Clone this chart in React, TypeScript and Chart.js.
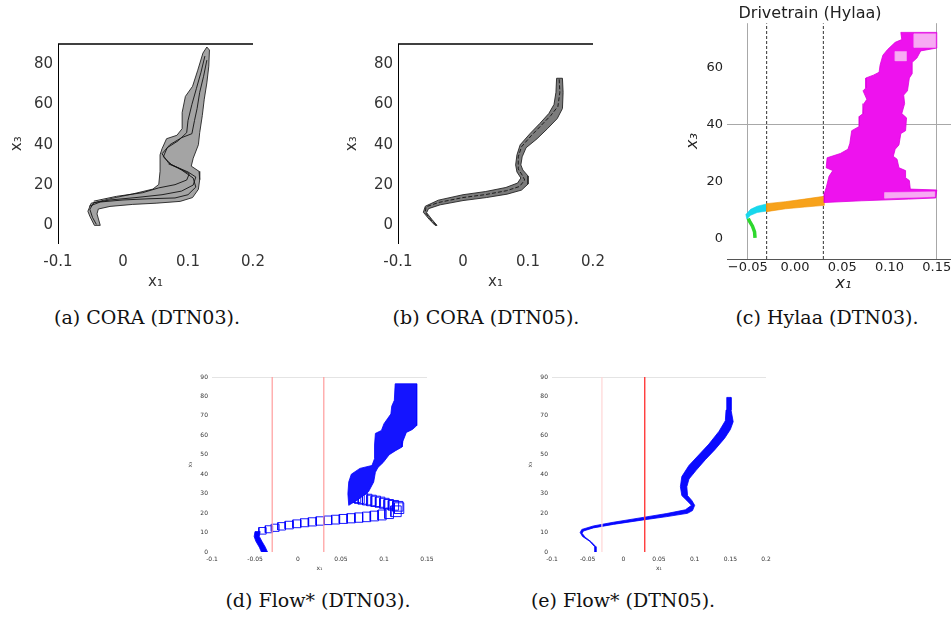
import React, { useEffect, useRef } from 'react';
import { Chart, registerables } from 'chart.js';

Chart.register(...registerables);
Chart.defaults.font.family = '"DejaVu Sans", sans-serif';

type Pt = [number, number];

// ---------------- (a) / (b) CORA ----------------
const CORA_X_TICKS = [-0.1, 0, 0.1, 0.2];
const CORA_X_LABELS = ['-0.1', '0', '0.1', '0.2'];
const CORA_Y_TICKS = [0, 20, 40, 60, 80];
const CORA_Y_LABELS = ['0', '20', '40', '60', '80'];

const CORA03_LEFT: Pt[] = [
  [-0.044, 0], [-0.051, 4.5], [-0.054, 7], [-0.049, 11], [-0.02, 13.2], [0.015, 15.6], [0.046, 18],
  [0.055, 20.3], [0.057, 26.8], [0.057, 35], [0.06, 38], [0.067, 43], [0.083, 44.7], [0.091, 48],
  [0.091, 56], [0.096, 64], [0.107, 69], [0.115, 77], [0.123, 85.5], [0.129, 88.5],
];
const CORA03_RIGHT: Pt[] = [
  [0.133, 87], [0.132, 79], [0.129, 70.7], [0.125, 62.6], [0.122, 54.5], [0.118, 46], [0.116, 40],
  [0.108, 33.3], [0.105, 29.4], [0.117, 26.8], [0.118, 22.7], [0.116, 17.9], [0.107, 13.8], [0.088, 11.9],
  [0.051, 11], [0.015, 10.4], [-0.02, 9.4], [-0.038, 8.1], [-0.04, 5.7], [-0.035, 0],
];
const CORA03_TRAJ_1: Pt[] = [
  [-0.041, 0.5], [-0.047, 4], [-0.051, 8], [-0.045, 11.2], [-0.02, 12.6], [0.02, 13.8], [0.06, 15.2],
  [0.09, 17], [0.108, 20], [0.112, 24], [0.1, 26.5], [0.075, 30], [0.062, 34], [0.068, 38.5], [0.085, 42],
  [0.098, 46], [0.1, 52], [0.106, 60], [0.113, 68], [0.12, 76], [0.126, 84],
];
const CORA03_TRAJ_2: Pt[] = [
  [-0.052, 9.5], [-0.035, 11.6], [0.0, 12.6], [0.04, 13.2], [0.08, 13.6], [0.1, 15.2], [0.112, 19],
  [0.108, 23.5], [0.09, 27.5], [0.07, 31], [0.06, 35.5], [0.072, 40], [0.09, 43.5], [0.106, 45.5],
  [0.11, 52], [0.114, 58], [0.118, 66], [0.124, 74], [0.129, 82],
];
const CORA03_TRAJ_3: Pt[] = [
  [-0.045, 12], [-0.01, 14.4], [0.03, 16.2], [0.055, 18.6], [0.08, 20.2], [0.098, 22.5], [0.102, 25.6],
  [0.085, 28.5], [0.07, 30.5],
];

const CORA05_LEFT: Pt[] = [
  [-0.043, 0], [-0.052, 3], [-0.061, 6.5], [-0.058, 9.5], [-0.038, 12.5], [0, 15.2], [0.035, 16.8],
  [0.066, 18.8], [0.084, 21], [0.089, 23.5], [0.083, 26.5], [0.081, 30], [0.083, 35], [0.088, 40],
  [0.103, 45.5], [0.118, 50.5], [0.132, 55.5], [0.14, 60], [0.143, 66], [0.144, 73],
];
const CORA05_RIGHT: Pt[] = [
  [0.153, 73], [0.154, 66], [0.153, 58], [0.145, 53], [0.13, 48], [0.114, 43], [0.097, 38.5],
  [0.091, 34], [0.089, 30], [0.092, 27.5], [0.1, 24.5], [0.1, 20.5], [0.09, 17.5], [0.068, 15.5],
  [0.036, 13.8], [0, 12.3], [-0.035, 10.2], [-0.053, 8.3], [-0.056, 6.3], [-0.048, 3], [-0.04, 0],
];
const CORA05_TRAJ: Pt[] = [
  [-0.0415, 0], [-0.05, 3], [-0.058, 6.4], [-0.057, 9.2], [-0.037, 11.4], [0, 13.8], [0.035, 15.3],
  [0.067, 17.2], [0.087, 19.3], [0.095, 22.5], [0.09, 25.5], [0.085, 28], [0.085, 34], [0.09, 39],
  [0.105, 44.5], [0.12, 49.5], [0.135, 54.5], [0.146, 59], [0.149, 66], [0.148, 72.5],
];

// ---------------- (c) Hylaa ----------------
const HYLAA_X_TICKS = [-0.05, 0, 0.05, 0.1, 0.15];
const HYLAA_X_LABELS = ['\u22120.05', '0.00', '0.05', '0.10', '0.15'];
const HYLAA_Y_TICKS = [0, 20, 40, 60];
const HYLAA_Y_LABELS = ['0', '20', '40', '60'];
const HYLAA_X_GRID = [-0.05, 0.15];
const HYLAA_Y_GRID = [40];
const HYLAA_GUARDS = [-0.03, 0.03];

const HYLAA_GREEN: Pt[] = [[-0.0423, 0.4], [-0.0428, 2.5], [-0.045, 4.5], [-0.048, 6.2], [-0.0495, 7.2]];
const HYLAA_CYAN_LOW: Pt[] = [[-0.051, 7], [-0.047, 8.3], [-0.04, 9.3], [-0.03, 9.8]];
const HYLAA_CYAN_UP: Pt[] = [[-0.03, 12.3], [-0.04, 11.5], [-0.047, 10.4], [-0.052, 8.6]];
const HYLAA_ORANGE_LOW: Pt[] = [[-0.03, 9.6], [-0.01, 10.6], [0.01, 11.2], [0.031, 11.8]];
const HYLAA_ORANGE_UP: Pt[] = [[0.031, 15], [0.01, 14], [-0.01, 13.1], [-0.03, 12.4]];
const HYLAA_MAG_RIGHT: Pt[] = [
  [0.031, 12.8], [0.07, 13.4], [0.12, 14.0], [0.149, 14.4], [0.15, 17.2], [0.122, 17.5], [0.121, 20.5],
  [0.117, 21.5], [0.117, 24.0], [0.11, 25.0], [0.108, 28.0], [0.104, 29.0], [0.106, 31.5], [0.11, 33.0],
  [0.112, 37.0], [0.117, 38.0], [0.118, 42.5], [0.113, 44.0], [0.116, 47.5], [0.115, 50.5], [0.119, 52.0],
  [0.121, 56.5], [0.124, 58.0], [0.124, 62.0], [0.129, 63.5], [0.133, 66.0], [0.15, 67.0], [0.15, 72.5],
];
const HYLAA_MAG_LEFT: Pt[] = [
  [0.112, 72.5], [0.113, 70.0], [0.106, 69.0], [0.098, 66.5], [0.093, 64.5], [0.09, 61.0], [0.089, 58.5],
  [0.083, 57.5], [0.075, 56.5], [0.075, 53.0], [0.072, 52.0], [0.076, 49.0], [0.073, 47.5], [0.072, 44.0],
  [0.068, 43.0], [0.068, 39.5], [0.06, 38.0], [0.058, 33.5], [0.056, 31.5], [0.048, 30.0], [0.034, 28.5],
  [0.033, 25.0], [0.04, 24.0], [0.036, 22.0], [0.033, 18.0], [0.031, 16.0],
];
const HYLAA_PINK_1: Pt[] = [[0.126, 67.2], [0.149, 67.2], [0.149, 72], [0.126, 72]];
const HYLAA_PINK_2: Pt[] = [[0.106, 62.5], [0.118, 62.5], [0.118, 65.8], [0.106, 65.8]];
const HYLAA_PINK_3: Pt[] = [[0.095, 14.3], [0.148, 14.8], [0.148, 16.6], [0.095, 16.3]];

// ---------------- (d) / (e) Flow* ----------------
const FLOW03_X_TICKS = [-0.1, -0.05, 0, 0.05, 0.1, 0.15];
const FLOW03_X_LABELS = ['-0.1', '-0.05', '0', '0.05', '0.1', '0.15'];
const FLOW05_X_TICKS = [-0.1, -0.05, 0, 0.05, 0.1, 0.15, 0.2];
const FLOW05_X_LABELS = ['-0.1', '-0.05', '0', '0.05', '0.1', '0.15', '0.2'];
const FLOW_Y_TICKS = [0, 10, 20, 30, 40, 50, 60, 70, 80, 90];
const FLOW_Y_LABELS = ['0', '10', '20', '30', '40', '50', '60', '70', '80', '90'];
const FLOW_GUARDS = [-0.03, 0.03];

const FLOW03_TAIL_L: Pt[] = [[-0.0425, 0], [-0.045, 2.5], [-0.049, 5.5], [-0.051, 8], [-0.05, 10.5]];
const FLOW03_TAIL_R: Pt[] = [[-0.044, 10.5], [-0.045, 8], [-0.042, 5.5], [-0.038, 2.5], [-0.0355, 0]];
const FLOW03_BOX_X = [
  -0.0455, -0.038, -0.031, -0.0235, -0.015, -0.006, 0.003, 0.012, 0.021, 0.03, 0.039, 0.048, 0.057, 0.066,
  0.075, 0.084, 0.093, 0.101, 0.108, 0.112, 0.11, 0.105, 0.1, 0.095, 0.09, 0.085, 0.08, 0.075, 0.07, 0.066, 0.062,
];
const FLOW03_BOX_Y = [
  9.2, 9.9, 10.6, 11.3, 11.9, 12.5, 13.0, 13.4, 13.8, 14.1, 14.4, 14.7, 15.0, 15.3,
  15.6, 16.0, 16.5, 17.2, 18.2, 19.8, 21.0, 21.5, 22.0, 22.5, 23.0, 23.4, 23.8, 24.2, 24.6, 25.0, 25.5,
];
const FLOW03_BOX_W = [
  0.0085, 0.0085, 0.009, 0.009, 0.0095, 0.0095, 0.0095, 0.0095, 0.0095, 0.0095, 0.0095, 0.0095, 0.0095, 0.0095,
  0.0095, 0.0095, 0.0095, 0.01, 0.012, 0.011, 0.012, 0.012, 0.011, 0.011, 0.011, 0.011, 0.011, 0.011, 0.011, 0.011, 0.011,
];
const FLOW03_BOX_H = [
  3.4, 3.6, 3.7, 3.8, 3.9, 4.0, 4.1, 4.2, 4.3, 4.4, 4.5, 4.6, 4.7, 4.8,
  4.9, 5.0, 5.1, 5.3, 5.5, 5.5, 5.0, 5.0, 5.0, 5.1, 5.2, 5.3, 5.4, 5.5, 5.6, 5.7, 5.8,
];
const FLOW03_UPPER_L: Pt[] = [
  [0.059, 24], [0.058, 30], [0.059, 36], [0.062, 40], [0.072, 43], [0.086, 44.5], [0.089, 48], [0.089, 55],
  [0.09, 61], [0.097, 62.5], [0.1, 66], [0.104, 68.5], [0.108, 71], [0.109, 75], [0.112, 78], [0.113, 86.5],
];
const FLOW03_UPPER_R: Pt[] = [
  [0.138, 86.5], [0.138, 76], [0.138, 65], [0.133, 63], [0.126, 61.5], [0.122, 57], [0.121, 54], [0.113, 52],
  [0.106, 50], [0.099, 46], [0.093, 43.5], [0.09, 41], [0.088, 36], [0.082, 31], [0.07, 27],
];

const FLOW05_LEFT: Pt[] = [
  [-0.0402, 0], [-0.0402, 2.7], [-0.0472, 5.5], [-0.0572, 8], [-0.0605, 10], [-0.0582, 11.6], [-0.042, 13.4],
  [-0.014, 15.3], [0.028, 17.8], [0.061, 19.8], [0.087, 21.7], [0.0955, 24], [0.089, 26.5], [0.082, 29],
  [0.08, 33.6], [0.082, 38.8], [0.092, 44.5], [0.106, 50], [0.12, 55.5], [0.134, 62], [0.143, 67.5],
  [0.144, 73], [0.145, 79.5],
];
const FLOW05_RIGHT: Pt[] = [
  [0.151, 79.5], [0.151, 73], [0.154, 67], [0.15, 63], [0.142, 58.5], [0.128, 52.5], [0.115, 47.5],
  [0.102, 42], [0.092, 37.5], [0.089, 33.6], [0.09, 29], [0.096, 26.5], [0.1, 24], [0.097, 21.3],
  [0.09, 19.9], [0.061, 18.2], [0.028, 16.5], [-0.014, 14.2], [-0.042, 12.4], [-0.056, 10.8], [-0.0578, 9.6],
  [-0.0535, 7.6], [-0.0452, 5.3], [-0.0384, 2.7], [-0.0384, 0],
];

// ---------------- helpers ----------------
const xy = (a: Pt[]) => a.map(([x, y]) => ({ x, y }));
const ring = (a: Pt[], b: Pt[]) => xy([...a, ...b, a[0]]);
const boxes = (xs: number[], ys: number[], ws: number[], hs: number[]) =>
  xs.flatMap((x0, i) => {
    const y0 = ys[i], x1 = x0 + ws[i], y1 = y0 + hs[i];
    return [
      { x: x0, y: y0 }, { x: x1, y: y0 }, { x: x1, y: y1 }, { x: x0, y: y1 }, { x: x0, y: y0 },
      { x: NaN, y: NaN },
    ];
  });
const vLine = (x: number, y0: number, y1: number) => [{ x, y: y0 }, { x, y: y1 }];

const area = (data: any[], bg: string, border: string, bw = 0.8) => ({
  data, fill: 'shape', backgroundColor: bg, borderColor: border, borderWidth: bw, pointRadius: 0,
  borderJoinStyle: 'round',
});
const path = (data: any[], color: string, bw: number, dash: number[] = []) => ({
  data, fill: false, borderColor: color, backgroundColor: color, borderWidth: bw, borderDash: dash,
  pointRadius: 0,
});

const base = (padding: any, title?: any) => ({
  animation: false,
  responsive: false,
  maintainAspectRatio: false,
  events: [],
  layout: { padding },
  plugins: {
    legend: { display: false },
    tooltip: { enabled: false },
    title: title || { display: false },
  },
  elements: { line: { tension: 0 }, point: { radius: 0 } },
});

function scaleCfg(o: any) {
  return {
    type: 'linear',
    min: o.min,
    max: o.max,
    afterBuildTicks: (s: any) => {
      s.ticks = o.ticks.map((v: number) => ({ value: v }));
    },
    afterFit: (s: any) => {
      if (o.horizontal) s.height = o.size;
      else s.width = o.size;
    },
    ticks: {
      autoSkip: false,
      maxRotation: 0,
      padding: o.pad,
      color: o.color,
      font: { size: o.fontSize },
      callback: (_v: any, i: number) => o.labels[i],
    },
    grid: {
      display: !!o.gridColor,
      drawTicks: false,
      lineWidth: 1,
      color: (c: any) => (o.gridColor && c.tick ? o.gridColor(c.tick.value) : 'rgba(0,0,0,0)'),
    },
    border: { display: !!o.border, color: o.border || 'rgba(0,0,0,0)', width: 1 },
    title: { display: true, text: o.title, color: o.color, font: o.titleFont, padding: o.titlePad },
  };
}

const topLine = {
  id: 'topLine',
  afterDraw(chart: any) {
    const { ctx, chartArea } = chart;
    ctx.save();
    ctx.strokeStyle = '#000';
    ctx.lineWidth = 1.3;
    ctx.beginPath();
    ctx.moveTo(chartArea.left, chartArea.top);
    ctx.lineTo(chartArea.right, chartArea.top);
    ctx.stroke();
    ctx.restore();
  },
};

// ---------------- chart configs ----------------
function coraConfig(left: Pt[], right: Pt[], trajs: Pt[][], fillColor: string, trajDash: number[], yWidth: number, yTitlePad: number) {
  return {
    type: 'line',
    data: {
      datasets: [
        ...trajs.map((t) => path(xy(t), '#111', 0.9, trajDash)),
        area(ring(left, right), fillColor, '#222', 0.9),
      ],
    },
    options: {
      ...base({ top: 10.5, right: 47, left: 0, bottom: 0 }),
      scales: {
        x: scaleCfg({
          horizontal: true, min: -0.1, max: 0.2, ticks: CORA_X_TICKS, labels: CORA_X_LABELS, size: 51.5,
          pad: 10, fontSize: 15, color: '#333', title: 'x\u2081', titleFont: { size: 15 }, titlePad: { bottom: 4 },
        }),
        y: scaleCfg({
          min: -9, max: 90, ticks: CORA_Y_TICKS, labels: CORA_Y_LABELS, size: yWidth, pad: 5, fontSize: 15,
          color: '#333', title: 'x\u2083', titleFont: { size: 15 }, titlePad: { top: yTitlePad }, border: '#000',
        }),
      },
    },
    plugins: [topLine],
  };
}

function hylaaConfig() {
  const yMin = -7.02, yMax = 75.72;
  return {
    type: 'line',
    data: {
      datasets: [
        area(xy([...HYLAA_PINK_1, HYLAA_PINK_1[0]]), '#f7aaf3', '#f7aaf3', 0.5),
        area(xy([...HYLAA_PINK_2, HYLAA_PINK_2[0]]), '#f7aaf3', '#f7aaf3', 0.5),
        area(xy([...HYLAA_PINK_3, HYLAA_PINK_3[0]]), '#f7aaf3', '#f7aaf3', 0.5),
        area(ring(HYLAA_MAG_RIGHT, HYLAA_MAG_LEFT), '#ee12ee', '#dd00dd', 0.8),
        area(ring(HYLAA_ORANGE_LOW, HYLAA_ORANGE_UP), '#f7a21b', '#f09000', 0.6),
        area(ring(HYLAA_CYAN_LOW, HYLAA_CYAN_UP), '#17d8ec', '#10d0e8', 0.6),
        path(xy(HYLAA_GREEN), '#2ed82e', 3.5),
        ...HYLAA_GUARDS.map((g) => path(vLine(g, yMin, yMax), '#333', 1, [3, 2])),
      ],
    },
    options: {
      ...base(
        { top: 0, right: 65, left: 0, bottom: 0 },
        {
          display: true, text: 'Drivetrain (Hylaa)', color: '#222',
          font: { size: 16, weight: 'normal' }, padding: { top: 4, bottom: 0 },
        },
      ),
      scales: {
        x: scaleCfg({
          horizontal: true, min: -0.07196, max: 0.1746, ticks: HYLAA_X_TICKS, labels: HYLAA_X_LABELS, size: 41,
          pad: 1, fontSize: 13, color: '#222', title: 'x\u2081', titleFont: { size: 16, style: 'italic' },
          titlePad: { bottom: 6.4 }, border: '#555',
          gridColor: (v: number) => (HYLAA_X_GRID.includes(v) ? '#a8a8a8' : 'rgba(0,0,0,0)'),
        }),
        y: scaleCfg({
          min: yMin, max: yMax, ticks: HYLAA_Y_TICKS, labels: HYLAA_Y_LABELS, size: 67, pad: 4, fontSize: 13,
          color: '#222', title: 'x\u2083', titleFont: { size: 16, style: 'italic' }, titlePad: { top: 23.4 },
          gridColor: (v: number) => (HYLAA_Y_GRID.includes(v) ? '#a8a8a8' : 'rgba(0,0,0,0)'),
        }),
      },
    },
  };
}

function flowAxes(xTicks: number[], xLabels: string[], xMax: number, yWidth: number, yTitlePad: number) {
  return {
    x: scaleCfg({
      horizontal: true, min: -0.1, max: xMax, ticks: xTicks, labels: xLabels, size: 28, pad: 3.4,
      fontSize: 6, color: '#333', title: 'x\u2081', titleFont: { size: 6 }, titlePad: { bottom: 8.4 },
    }),
    y: scaleCfg({
      min: 0, max: 90, ticks: FLOW_Y_TICKS, labels: FLOW_Y_LABELS, size: yWidth, pad: 4, fontSize: 6,
      color: '#333', title: 'x\u2083', titleFont: { size: 6 }, titlePad: { top: yTitlePad },
      gridColor: (v: number) => (v === 90 ? '#e4e4e4' : 'rgba(0,0,0,0)'),
    }),
  };
}

function flow03Config() {
  return {
    type: 'line',
    data: {
      datasets: [
        ...FLOW_GUARDS.map((g) => path(vLine(g, 0, 90), '#ff9c9c', 1.2)),
        area(ring(FLOW03_UPPER_L, FLOW03_UPPER_R), '#1414ff', '#0000ff', 0.8),
        path(boxes(FLOW03_BOX_X, FLOW03_BOX_Y, FLOW03_BOX_W, FLOW03_BOX_H), '#0000ff', 0.9),
        area(ring(FLOW03_TAIL_L, FLOW03_TAIL_R), '#0000ff', '#0000ff', 0.8),
      ],
    },
    options: {
      ...base({ top: 12, right: 33, left: 0, bottom: 0 }),
      scales: flowAxes(FLOW03_X_TICKS, FLOW03_X_LABELS, 0.15, 32, 6.4),
    },
  };
}

function flow05Config() {
  return {
    type: 'line',
    data: {
      datasets: [
        path(vLine(FLOW_GUARDS[1], 0, 90), '#ff3a3a', 1.4),
        path(vLine(FLOW_GUARDS[0], 0, 90), '#ffd6d6', 1.2),
        area(ring(FLOW05_LEFT, FLOW05_RIGHT), '#0a0aff', '#0000ff', 0.8),
      ],
    },
    options: {
      ...base({ top: 12, right: 34, left: 0, bottom: 0 }),
      scales: flowAxes(FLOW05_X_TICKS, FLOW05_X_LABELS, 0.2, 52, 26.4),
    },
  };
}

// ---------------- components ----------------
function Panel({ left, top, width, height, config }: any) {
  const ref = useRef<HTMLCanvasElement | null>(null);
  useEffect(() => {
    if (!ref.current) return;
    const chart = new Chart(ref.current, config() as any);
    return () => chart.destroy();
  }, []);
  return (
    <canvas
      ref={ref}
      width={width}
      height={height}
      style={{ position: 'absolute', left, top, width, height }}
    />
  );
}

function Caption({ cx, cy, text }: { cx: number; cy: number; text: string }) {
  return (
    <div
      style={{
        position: 'absolute', left: cx - 160, top: cy - 12, width: 320, textAlign: 'center',
        fontFamily: '"DejaVu Serif", serif', fontSize: 19, lineHeight: '24px', color: '#111',
        whiteSpace: 'nowrap',
      }}
    >
      {text}
    </div>
  );
}

export default function App() {
  return (
    <div
      style={{
        position: 'fixed', left: 0, top: 0, width: 951, height: 617, overflow: 'hidden', background: '#fff',
      }}
    >
      <Panel left={0} top={30} width={300} height={265}
        config={() => coraConfig(CORA03_LEFT, CORA03_RIGHT, [CORA03_TRAJ_1, CORA03_TRAJ_2, CORA03_TRAJ_3], '#a4a4a4', [], 58, 8)} />
      <Panel left={330} top={30} width={310} height={265}
        config={() => coraConfig(CORA05_LEFT, CORA05_RIGHT, [CORA05_TRAJ], '#7c7c7c', [4, 2], 68, 13)} />
      <Panel left={660} top={0} width={365} height={300} config={hylaaConfig} />
      <Panel left={180} top={365} width={280} height={215} config={flow03Config} />
      <Panel left={500} top={365} width={300} height={215} config={flow05Config} />
      <Caption cx={147} cy={317} text="(a) CORA (DTN03)." />
      <Caption cx={486} cy={317} text="(b) CORA (DTN05)." />
      <Caption cx={827} cy={317} text="(c) Hylaa (DTN03)." />
      <Caption cx={318} cy={600} text="(d) Flow* (DTN03)." />
      <Caption cx={623} cy={600} text="(e) Flow* (DTN05)." />
    </div>
  );
}
